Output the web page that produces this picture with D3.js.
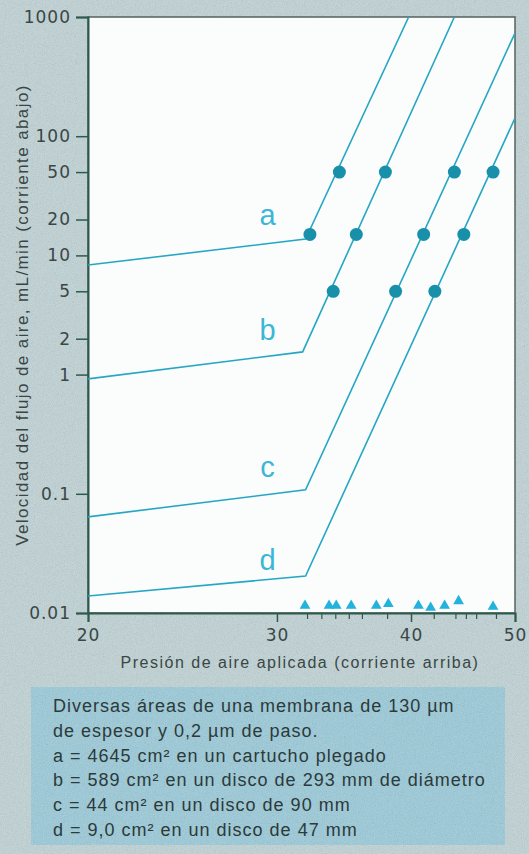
<!DOCTYPE html>
<meta charset="utf-8">
<script src="https://d3js.org/d3.v7.min.js"></script>
<style>
  body { margin: 0; background: #c0d4d7; }
  svg { display: block; }
  .tick-lab { font-family: "DejaVu Sans", sans-serif; font-size: 17px; fill: #3a4745; }
  .axis-title { font-family: "Liberation Sans", Arial, sans-serif; font-size: 16px; fill: #3a4644; letter-spacing: 1.5px; }
  .note { font-family: "Liberation Sans", Arial, sans-serif; font-size: 18px; fill: #2c3a3a; letter-spacing: 1px; }
  .curve-lab { font-family: "Liberation Sans", Arial, sans-serif; font-size: 29px; fill: #3cb6d6; }
</style>
<body>
<div id="chart"></div>
<script>
// ---- data ----
var curveNames = ["a", "b", "c", "d"];

// each curve: [pressure, flow] break points
var curveA = [[20, 8.3], [31.9, 13.7], [39.8, 1000]];
var curveB = [[20, 0.92], [31.7, 1.55], [43.9, 1000]];
var curveC = [[20, 0.064], [31.9, 0.108], [50, 734]];
var curveD = [[20, 0.0139], [31.9, 0.0204], [50, 142]];

// measured points (circles)
var pointsA = [[32.2, 15], [34.3, 50]];
var pointsB = [[33.85, 5], [35.57, 15], [37.86, 50]];
var pointsC = [[38.7, 5], [41.1, 15], [43.9, 50]];
var pointsD = [[42.1, 5], [44.8, 15], [47.7, 50]];

// triangles near the bottom
var triX = [31.86, 33.55, 34.07, 35.18, 37.13, 38.1, 40.64, 41.72, 42.99, 44.3, 47.7];
var triY = [0.0115, 0.0115, 0.0115, 0.0115, 0.0115, 0.0119, 0.0115, 0.0111, 0.0115, 0.0126, 0.0113];

// curve label positions [pressure, flow at baseline]
var labelPos = [[29.4, 18], [29.4, 1.95], [29.4, 0.138], [29.4, 0.0229]];

var yTicks = [1000, 100, 50, 20, 10, 5, 2, 1, 0.1, 0.01];
var xTicks = [20, 30, 40, 50];
var xMinor = [32, 33, 34, 35, 36, 38, 42, 44, 45, 46, 48];

var noteLines = [
  "Diversas áreas de una membrana de 130 µm",
  "de espesor y 0,2 µm de paso.",
  "a = 4645 cm² en un cartucho plegado",
  "b = 589 cm² en un disco de 293 mm de diámetro",
  "c = 44 cm² en un disco de 90 mm",
  "d = 9,0 cm² en un disco de 47 mm"
];

var xTitle = "Presión de aire aplicada (corriente arriba)";
var yTitle = "Velocidad del flujo de aire, mL/min (corriente abajo)";

// ---- layout ----
var W = 529, H = 854;
var padL = 88, padR = 515, padT = 17, padB = 613;

var svg = d3.select("#chart").append("svg")
    .attr("width", W)
    .attr("height", H);

// grainy paper texture
var defs = svg.append("defs");
var f = defs.append("filter").attr("id", "grain").attr("x", 0).attr("y", 0).attr("width", "100%").attr("height", "100%");
f.append("feTurbulence").attr("type", "fractalNoise").attr("baseFrequency", 1.1).attr("numOctaves", 2).attr("seed", 3);
f.append("feColorMatrix").attr("type", "saturate").attr("values", 0);

svg.append("rect").attr("width", W).attr("height", H).attr("fill", "#c0d4d7");

// note box
svg.append("rect")
    .attr("x", 31).attr("y", 687)
    .attr("width", 474).attr("height", 158)
    .attr("fill", "#98cbdb");

svg.append("rect").attr("width", W).attr("height", H)
    .attr("filter", "url(#grain)").attr("opacity", 0.38);

// plot area
svg.append("rect")
    .attr("x", padL).attr("y", padT)
    .attr("width", padR - padL).attr("height", padB - padT)
    .attr("fill", "#fbfcfc")
    .attr("stroke", "#56625e").attr("stroke-width", 1.5);

var x = d3.scaleLog().domain([20, 50]).range([padL, padR]);
var y = d3.scaleLog().domain([0.01, 1000]).range([padB, padT]);

// axes
var yAxis = svg.append("g")
    .attr("transform", "translate(" + padL + ",0)")
    .call(d3.axisLeft(y).tickValues(yTicks).tickSize(12).tickPadding(5)
      .tickFormat(function(d) { return d < 1 ? String(d) : d3.format("d")(d); }));
yAxis.select(".domain").attr("stroke", "#2d5a4b").attr("stroke-width", 2);
yAxis.selectAll(".tick line").attr("stroke", "#2d5a4b").attr("stroke-width", 1.5);
yAxis.selectAll(".tick text").attr("class", "tick-lab").attr("font-size", null).attr("font-family", null)
    .attr("fill", null).attr("letter-spacing", 1);

var xAxis = svg.append("g")
    .attr("transform", "translate(0," + padB + ")")
    .call(d3.axisBottom(x).tickValues(xTicks).tickSize(9).tickPadding(7)
      .tickFormat(d3.format("d")));
xAxis.select(".domain").attr("stroke", "#2d5a4b").attr("stroke-width", 2);
xAxis.selectAll(".tick line").attr("stroke", "#2d5a4b").attr("stroke-width", 1.5);
xAxis.selectAll(".tick text").attr("class", "tick-lab").attr("font-size", null).attr("font-family", null)
    .attr("fill", null).attr("letter-spacing", 1);

var xMin = svg.append("g")
    .attr("transform", "translate(0," + padB + ")")
    .call(d3.axisBottom(x).tickValues(xMinor).tickSize(6).tickFormat(""));
xMin.select(".domain").remove();
xMin.selectAll(".tick line").attr("stroke", "#2d5a4b").attr("stroke-width", 1.2);

// axis titles
svg.append("text")
    .attr("class", "axis-title")
    .attr("x", 300).attr("y", 668)
    .attr("text-anchor", "middle")
    .text(xTitle);

svg.append("text")
    .attr("class", "axis-title")
    .attr("transform", "translate(28,315) rotate(-90)")
    .attr("text-anchor", "middle")
    .style("font-size", "17px")
    .style("letter-spacing", "1.4px")
    .text(yTitle);

// curves
var curves = [curveA, curveB, curveC, curveD];
var points = [pointsA, pointsB, pointsC, pointsD];

var line = d3.line()
    .x(function(d) { return x(d[0]); })
    .y(function(d) { return y(d[1]); });

defs.append("clipPath").attr("id", "clip")
  .append("rect").attr("x", padL).attr("y", padT).attr("width", padR - padL).attr("height", padB - padT);

var plot = svg.append("g");

plot.selectAll(".curve")
    .data(curves)
  .enter().append("path")
    .attr("class", "curve")
    .attr("clip-path", "url(#clip)")
    .attr("d", line)
    .attr("fill", "none")
    .attr("stroke", "#25a7c4")
    .attr("stroke-width", 1.6);

points.forEach(function(pts) {
  plot.selectAll(null)
      .data(pts)
    .enter().append("circle")
      .attr("cx", function(d) { return x(d[0]); })
      .attr("cy", function(d) { return y(d[1]); })
      .attr("r", 6.5)
      .attr("fill", "#1890aa");
});

// triangles
plot.selectAll(".tri")
    .data(triX)
  .enter().append("path")
    .attr("class", "tri")
    .attr("transform", function(d, i) { return "translate(" + x(d) + "," + y(triY[i]) + ")"; })
    .attr("d", d3.symbol().type(d3.symbolTriangle).size(50))
    .attr("fill", "#22b2dc");

// curve letters
plot.selectAll(".curve-lab")
    .data(curveNames)
  .enter().append("text")
    .attr("class", "curve-lab")
    .attr("x", function(d, i) { return x(labelPos[i][0]); })
    .attr("y", function(d, i) { return y(labelPos[i][1]); })
    .attr("text-anchor", "middle")
    .text(function(d) { return d; });

// note text
svg.selectAll(".note")
    .data(noteLines)
  .enter().append("text")
    .attr("class", "note")
    .attr("x", 53)
    .attr("y", function(d, i) { return 712 + i * 24.8; })
    .text(function(d) { return d; });
</script>
</body>
